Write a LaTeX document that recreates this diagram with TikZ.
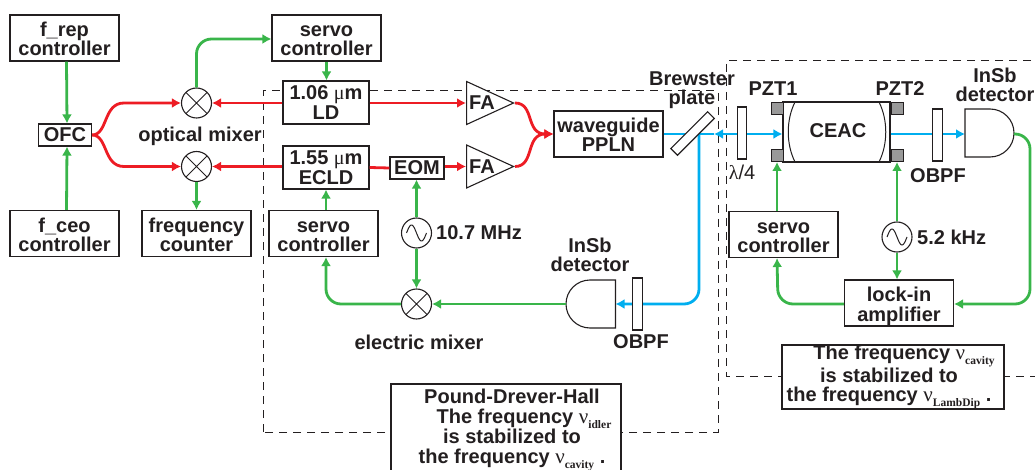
\documentclass[tikz,border=0pt]{standalone}
\usepackage{fontspec}
\setmainfont{Liberation Sans}
\newfontfamily\symfont{Liberation Serif}
\usetikzlibrary{arrows.meta,shapes.geometric}
\definecolor{cred}{HTML}{ED1C24}
\definecolor{cgrn}{HTML}{39B54A}
\definecolor{cblu}{HTML}{00AEEF}
\definecolor{ink}{HTML}{231F20}
\newcommand{\nuidx}[1]{{\symfont\mdseries\fontsize{21}{21}\selectfont ν}\raisebox{-5pt}{\symfont\bfseries\fontsize{11.5}{11.5}\selectfont #1}}
\tikzset{
  txt/.style={font=\bfseries\fontsize{20}{19.5}\selectfont,text=ink,inner sep=0pt,align=center},
  bx/.style={txt,draw=ink,fill=white,line width=1.1pt},
  ctrl/.style={bx,minimum width=109pt,minimum height=46pt,text height=36pt,text depth=0pt},
  ld/.style={bx,minimum width=86pt,minimum height=43pt},
  plate/.style={draw=ink,fill=white,line width=1.1pt,inner sep=0pt,minimum width=9.5pt},
  pzt/.style={draw=ink,fill=black!40,line width=1pt,inner sep=0pt,minimum width=12pt,minimum height=12pt},
  mixer/.style={circle,draw=ink,fill=white,line width=1.1pt,inner sep=0pt,minimum size=30pt,
    path picture={\draw[line width=1pt,ink] (path picture bounding box.north west)--(path picture bounding box.south east)
      (path picture bounding box.north east)--(path picture bounding box.south west);}},
  osc/.style={circle,draw=ink,fill=white,line width=1.1pt,inner sep=0pt,minimum size=30pt,
    path picture={\draw[line width=1pt,ink,shift={(path picture bounding box.center)},domain=-10:10,samples=31] plot (\x,{8*sin(18*\x)});}},
  fa/.style={isosceles triangle,isosceles triangle stretches,shape border rotate=0,draw=ink,fill=white,line width=1.1pt,inner sep=0pt,minimum width=43pt,minimum height=47pt,anchor=lower side},
  frame/.style={dashed,dash pattern=on 8pt off 6pt,draw=ink,line width=1pt},
  laser/.style={cred,line width=2.8pt},
  elec/.style={cgrn,line width=2.8pt},
  idler/.style={cblu,line width=2.8pt},
}
\begin{document}
\begin{tikzpicture}[x=1pt,y=-1pt,>={Latex[length=9pt,width=10pt]}]
\useasboundingbox (0,0) rectangle (1035,470);
\clip (0,0) rectangle (1035,470);

% the two loops
\draw[frame] (263,432) -- (263,91) -- (718,91) -- (718,432) -- cycle;
\draw[frame] (1045,61) -- (726,61) -- (726,376) -- (1045,376);

% comb side
\node(frep) at (64.5,38)[ctrl]{f\_rep\\controller};
\node(ofc) at (65,135)[bx,minimum width=53pt,minimum height=22pt]{OFC};
\node(fceo) at (64.5,233.5)[ctrl]{f\_ceo\\controller};
\node(mix1) at (196.5,103)[mixer]{};
\node(mix2) at (196.5,166.5)[mixer]{};
\node(optlabel) at (200,136)[txt]{optical mixer};
\node(counter) at (196.5,233.5)[ctrl]{frequency\\counter};
\node(servo1) at (326.5,38)[ctrl]{servo\\controller};
\coordinate(corner1) at (196.5,39);

% lasers
\node(ld) at (326,102.5)[ld]{1.06 {\symfont\mdseries μ}m\\LD};
\node(ecld) at (326,167.5)[ld]{1.55 {\symfont\mdseries μ}m\\ECLD};
\node(servo2) at (323.5,233.5)[ctrl]{servo\\controller};
\node(eom) at (417,168)[bx,minimum width=54pt,minimum height=22pt]{EOM};
\node(fa1) at (466,103)[fa]{};
\node(fa2) at (466,166.5)[fa]{};
\node(fa1txt) at (482,103)[txt]{FA};
\node(fa2txt) at (482,166.5)[txt]{FA};
\node(wg) at (608.5,134)[ctrl]{waveguide\\PPLN};
\node(osc1) at (416.5,233)[osc]{};
\node(osc1txt) at (436,233)[txt,anchor=west]{10.7 MHz};
\node(emix) at (416.5,304)[mixer]{};
\node(emixtxt) at (419,342)[txt]{electric mixer};

% optical beams
\coordinate(split) at (699,134);
\coordinate(backtip) at (714,134);
\coordinate(detl) at (615.5,304);
\coordinate(detr) at (965,134);
\node(qwp) at (742,133)[plate,minimum height=52pt]{};
\node(ceac) at (836.5,132)[bx,minimum width=107pt,minimum height=60pt]{};
\draw[idler] (wg.east) -- (split);
\draw[idler,->] (qwp.west |- detr) -- (backtip);
\draw[idler] (backtip) -- (split);
\draw[idler,->] (qwp.east |- detr) -- (ceac.west |- detr);
\draw[idler,->] (ceac.east |- detr) -- (detr);
\draw[idler,->,rounded corners=15pt] (split) -- (699,304) -- (detl);

\node(brew) at (692.5,133.5)[plate,minimum width=52pt,minimum height=9.5pt,rotate=45]{};
\node(obpfl) at (637.5,304)[plate,minimum height=52pt]{};
\node(obpfr) at (937.5,135)[plate,minimum height=52pt]{};

% cavity
\draw[line width=1pt,ink] (795,102) .. controls (786,120) and (786,144) .. (795,162);
\draw[line width=1pt,ink] (879,102) .. controls (888,120) and (888,144) .. (879,162);
\node(ceactxt) at (838,131)[txt]{CEAC};
\node(pzt1a) at (777,109)[pzt]{};
\node(pzt1b) at (777,155.5)[pzt]{};
\node(pzt2a) at (897,109)[pzt]{};
\node(pzt2b) at (897,155.5)[pzt]{};

% detectors
\draw[line width=1.1pt,ink,fill=white] (965,109) -- (990,109) .. controls (1003.25,109) and (1014,119.75) .. (1014,133) .. controls (1014,146.25) and (1003.25,157) .. (990,157) -- (965,157) -- cycle;
\draw[line width=1.1pt,ink,fill=white] (615.5,280) -- (590,280) .. controls (576.75,280) and (566,290.75) .. (566,304) .. controls (566,317.25) and (576.75,328) .. (590,328) -- (615.5,328) -- cycle;
\coordinate(detrout) at (1014,134);
\coordinate(detlout) at (566,304);

% right-hand electronics
\node(servo3) at (783.5,234.5)[ctrl]{servo\\controller};
\node(lockin) at (899,303)[ctrl]{lock-in\\amplifier};
\node(osc2) at (897,237)[osc]{};
\node(osc2txt) at (917,237)[txt,anchor=west]{5.2 kHz};

% labels
\node(brewtxt) at (692,90)[txt]{Brewster\\plate};
\node(qwptxt) at (742,172)[txt,font=\mdseries\fontsize{20}{20}\selectfont]{{\symfont λ}/4};
\node(pzt1txt) at (773,89)[txt]{PZT1};
\node(pzt2txt) at (900,89)[txt]{PZT2};
\node(obpfrtxt) at (938,176)[txt]{OBPF};
\node(obpfltxt) at (641,342)[txt]{OBPF};
\node(detrtxt) at (995,85)[txt]{InSb\\detector};
\node(detltxt) at (590,255)[txt]{InSb\\detector};

\node(pdh) at (506,434)[bx,minimum width=230pt,minimum height=100pt]{};
\node(pdhtxt) at (512,430)[txt]{Pound-Drever-Hall\\\hspace*{24pt}The frequency \nuidx{idler}\\is stabilized to\\the frequency \nuidx{cavity} .};
\node(lamb) at (893,377)[bx,minimum width=222pt,minimum height=64pt]{};
\node(lambtxt) at (889,377)[txt]{\hspace*{30pt}The frequency \nuidx{cavity}\\is stabilized to\\the frequency \nuidx{LambDip} .};

% electric connections
\draw[elec,->] ([xshift=2pt]frep.south) -- ([xshift=2pt]ofc.north);
\draw[elec,->] ([xshift=2pt]fceo.north) -- ([xshift=2pt]ofc.south);
\draw[elec,->,rounded corners=15pt] (mix1.north) -- (corner1) -- (servo1.west |- corner1);
\draw[elec,->] (mix2.south) -- (counter.north);
\draw[elec,->] (servo1.south) -- (servo1.south |- ld.north);
\draw[elec,->] (servo2.north -| ecld.south) -- (ecld.south);
\draw[elec,->] (osc1.north) -- (eom.south -| osc1.north);
\draw[elec,->] (osc1.south) -- (emix.north);
\draw[elec,->] (detlout) -- (emix.east);
\draw[elec,->,rounded corners=15pt] (emix.west) -- (326,304) -- (servo2.south -| ecld.south);
\draw[elec,->] (servo3.north -| pzt1b.south) -- (pzt1b.south);
\draw[elec,->] (osc2.north) -- (pzt2b.south -| osc2.north);
\draw[elec,->] (osc2.south) -- (lockin.north -| osc2.south);
\draw[elec,->,rounded corners=15pt] (detrout) -- (1030,134) -- (1030,304) -- (lockin.east |- emix);
\draw[elec,->,rounded corners=15pt] (lockin.west |- emix) -- (778,304) -- (servo3.south -| pzt1b.south);

% laser connections
\draw[laser,->] (ofc.east) .. controls (108,135) and (103,103) .. (124,103) -- (mix1.west);
\draw[laser,->] (ofc.east) .. controls (108,135) and (103,166.5) .. (124,166.5) -- (mix2.west);
\draw[laser,->] (ld.west |- mix1) -- (mix1.east);
\draw[laser,->] (ecld.west |- mix2) -- (mix2.east);
\draw[laser,->] (ld.east |- fa1) -- (fa1.lower side);
\draw[laser] (ecld.east) -- (eom.west);
\draw[laser,->] (eom.east |- fa2) -- (fa2.lower side);
\draw[laser,->] (fa1.apex) .. controls (535,103) and (525,134) .. (wg.west);
\draw[laser,->] (fa2.apex) .. controls (535,166.5) and (525,134) .. (wg.west);
\end{tikzpicture}
\end{document}
